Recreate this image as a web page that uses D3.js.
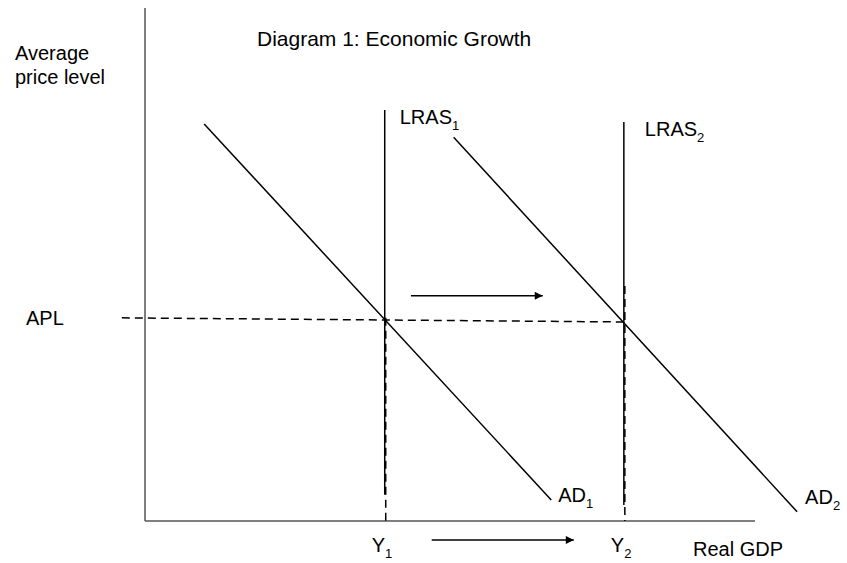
<!DOCTYPE html>
<html>
    <head>
        <meta charset="utf-8">
        <title>Economic Growth</title>
        <style>
            body { margin: 0; background: #fff; }
            text { font-family: "Liberation Sans", Arial, sans-serif; fill: #000; }
            .lbl { font-size: 20px; }
            .sub { font-size: 13px; }
            .axis-line { stroke: #555; stroke-width: 1.5; }
            .curve { stroke: #000; stroke-width: 1.5; fill: none; }
            .dash { stroke: #000; stroke-width: 1.5; stroke-dasharray: 8 5; fill: none; }
        </style>
    </head>
    <body>
    <div id="chart"></div>
    <script src="https://cdn.jsdelivr.net/npm/d3@7"></script>
    <script>
        (function(d3) {
            'use strict';

            // output / price in arbitrary units (0-100 on both axes)
            var outputLevels = [39.3, 78.5];      // Y1, Y2
            var outputLabels = ['1', '2'];
            var priceLevel = [39.6, 38.8];        // APL at left end, at Y2
            var lrasTop = [80.1, 77.8];
            var lrasBottom = [5.1, 3.1];
            var ad1 = [[9.7, 77.4], [66.6, 4.1]];
            var ad2 = [[50.6, 74.8], [106.9, 1.8]];
            var shiftArrowTop = [[43.6, 43.9], [65.2, 43.9]];
            var shiftArrowBottom = [[47.0, -3.7], [70.3, -3.7]];

            var width = 847;
            var height = 563;

            var x = d3.scaleLinear().domain([0, 100]).range([145, 755]);
            var y = d3.scaleLinear().domain([0, 100]).range([521, 8]);

            var svg = d3.select('#chart')
                .append('svg')
                .attr('width', width)
                .attr('height', height);

            svg.append('defs').append('marker')
                .attr('id', 'head')
                .attr('viewBox', '0 0 10 10')
                .attr('refX', 10)
                .attr('refY', 5)
                .attr('markerWidth', 12)
                .attr('markerHeight', 8)
                .attr('markerUnits', 'userSpaceOnUse')
                .attr('orient', 'auto')
                .append('path')
                .attr('d', 'M0,0 L10,5 L0,10 Z')
                .attr('fill', '#000');

            // axes (plain lines, no ticks)
            svg.append('line').attr('class', 'axis-line')
                .attr('x1', x(0)).attr('x2', x(0))
                .attr('y1', y(0)).attr('y2', y(100));
            svg.append('line').attr('class', 'axis-line')
                .attr('x1', x(0)).attr('x2', x(100))
                .attr('y1', y(0)).attr('y2', y(0));

            var line = d3.line()
                .x(function(d) { return x(d[0]); })
                .y(function(d) { return y(d[1]); });

            // APL dashed line
            svg.append('path').attr('class', 'dash')
                .attr('d', line([[-3.8, priceLevel[0]], [outputLevels[1], priceLevel[1]]]));

            // LRAS curves
            outputLevels.forEach(function(q, i) {
                svg.append('path').attr('class', 'curve')
                    .attr('d', line([[q, lrasTop[i]], [q, lrasBottom[i]]]));
            });

            // dashed drop lines from equilibrium to the axis
            outputLevels.forEach(function(q, i) {
                var p = i === 0 ? priceLevel[0] : priceLevel[1] + 7;
                svg.append('line').attr('class', 'dash')
                    .attr('stroke-dasharray', '8 4')
                    .attr('x1', x(q) + 1).attr('x2', x(q) + 1)
                    .attr('y1', y(p)).attr('y2', y(0));
            });

            // AD curves
            [ad1, ad2].forEach(function(d) {
                svg.append('path').attr('class', 'curve').attr('d', line(d));
            });

            // shift arrows
            [shiftArrowTop, shiftArrowBottom].forEach(function(d) {
                svg.append('path').attr('class', 'curve')
                    .attr('marker-end', 'url(#head)')
                    .attr('d', line(d));
            });

            function label(tx, ty, main, sub) {
                var t = svg.append('text').attr('class', 'lbl')
                    .attr('x', tx).attr('y', ty).text(main);
                if (sub) {
                    t.append('tspan').attr('class', 'sub')
                        .attr('dy', 6).text(sub);
                }
                return t;
            }

            label(15, 60, 'Average');
            label(15, 84, 'price level');
            label(257, 46, 'Diagram 1: Economic Growth').style('font-size', '21px');
            label(26, 325, 'APL');

            outputLevels.forEach(function(q, i) {
                label(x(q) + 15 + i * 6, y(lrasTop[i]) + 14, 'LRAS', outputLabels[i]);
                label(x(q) - 13, 552, 'Y', outputLabels[i]);
            });

            label(x(ad1[1][0]) + 7, y(ad1[1][1]) + 2, 'AD', '1');
            label(x(ad2[1][0]) + 8, y(ad2[1][1]) - 8, 'AD', '2');
            label(693, 556, 'Real GDP');

        })(window.d3);
    </script>
    </body>
</html>
